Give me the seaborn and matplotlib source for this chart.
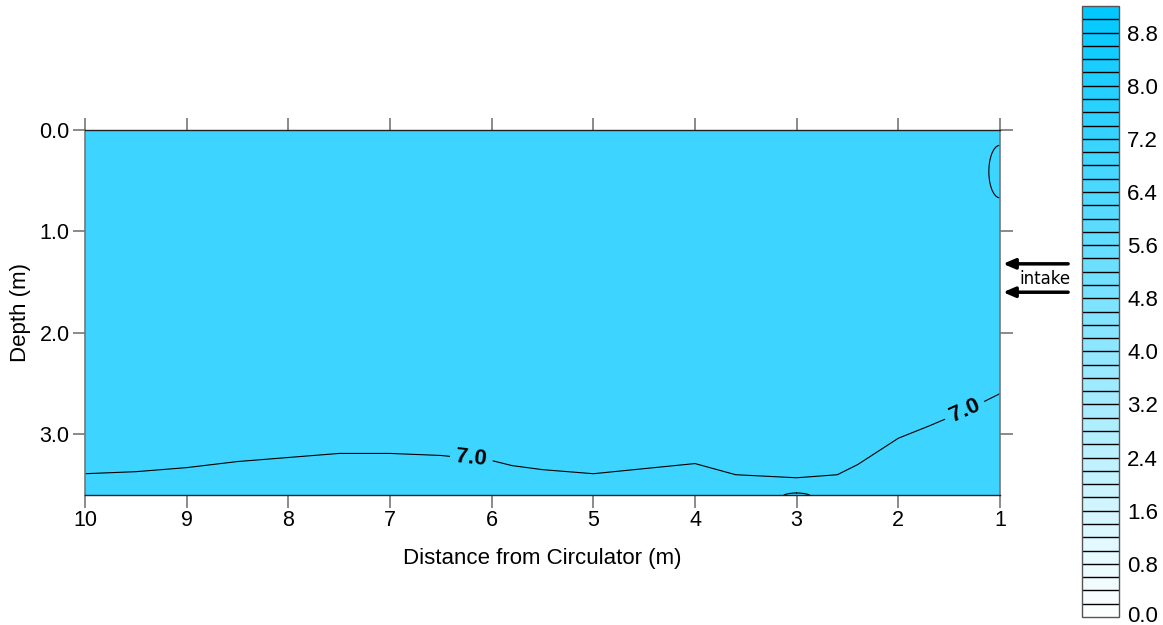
import numpy as np
import matplotlib
matplotlib.use("Agg")
import matplotlib.pyplot as plt
import matplotlib.colors as mcolors
import matplotlib.cm as cm
import matplotlib.transforms as mtransforms
import seaborn as sns

# ---- data ----
# depth (m) of the 7.0 isoline along the section
iso_x = [10, 9.5, 9, 8.5, 8, 7.5, 7, 6.5, 6, 5.8, 5.5, 5, 4.5, 4, 3.6, 3, 2.6, 2.4, 2, 1.7, 1.3, 1]
iso_depth = [3.39, 3.37, 3.33, 3.27, 3.23, 3.19, 3.19, 3.21, 3.26, 3.31, 3.35, 3.39, 3.34, 3.29,
             3.40, 3.43, 3.40, 3.30, 3.04, 2.92, 2.75, 2.60]
value_above = 7.1   # value above (shallower than) the isoline
value_below = 6.9   # value below the isoline
iso_level = 7.0
# small closed pockets: (x centre, depth centre, x radius, depth radius, sign)
pockets = [(1.0, 0.41, 0.11, 0.26, -1), (3.0, 3.63, 0.16, 0.05, +1)]

fill_levels = np.arange(0.0, 9.6, 0.4)
cbar_bounds = np.round(np.arange(0.0, 9.4, 0.2), 1)
cbar_ticks = np.round(np.arange(0.0, 9.0, 0.8), 1)
x_ticks = list(range(1, 11))
y_ticks = [0.0, 1.0, 2.0, 3.0]

# ---- build field ----
xg = np.linspace(1, 10, 451)
dg = np.linspace(0, 3.6, 361)
X, D = np.meshgrid(xg, dg)
B = np.interp(X, iso_x[::-1], iso_depth[::-1])
half = (value_above - value_below) / 2
Z = iso_level + half * np.clip((B - D) / 0.1, -1, 1)
for cx, cd, rx, rd, s in pockets:
    r2 = ((X - cx) / rx) ** 2 + ((D - cd) / rd) ** 2
    pocket = iso_level - s * 0.1 * (r2 - 1)
    if s < 0:
        Z = np.minimum(Z, pocket)
    else:
        Z = np.maximum(Z, pocket)

sns.set_style("ticks")
plt.rcParams['font.family'] = ['Liberation Sans', 'DejaVu Sans']
plt.rcParams['text.color'] = 'black'
plt.rcParams['axes.labelcolor'] = 'black'
plt.rcParams['xtick.labelcolor'] = 'black'
plt.rcParams['ytick.labelcolor'] = 'black'

cmap = mcolors.LinearSegmentedColormap.from_list("wc", ["#ffffff", "#00c8ff"])
norm = mcolors.Normalize(vmin=0.0, vmax=9.2)

fig = plt.figure(figsize=(11.63, 6.25), dpi=100)
ax = fig.add_axes([85/1163, 1 - 495/625, 915/1163, 365/625])

ax.contourf(X, D, Z, levels=fill_levels, cmap=cmap, norm=norm)
cs = ax.contour(X, D, Z, levels=[iso_level], colors="black", linewidths=0.8)
labels = ax.clabel(cs, fmt="%.1f", fontsize=16, inline=True, inline_spacing=6,
                   manual=[(6.2, 3.24), (1.35, 2.76)])
for t in labels:
    t.set_fontweight("bold")
    t.set_color("black")

ax.set_xlim(10, 1)
ax.set_ylim(3.6, 0)
ax.set_xticks(x_ticks)
ax.set_yticks(y_ticks)
ax.set_yticklabels([f"{v:.1f}" for v in y_ticks])
ax.tick_params(axis="both", which="both", direction="out", length=9, width=1.2,
               color="#777777", labelsize=15.5, labelcolor="black", top=True, right=True,
               labeltop=False, labelright=False, pad=2)
for side in ["left", "right"]:
    ax.spines[side].set_color("#777777")
    ax.spines[side].set_linewidth(1.2)
for side in ["top", "bottom"]:
    ax.spines[side].set_color("#222222")
    ax.spines[side].set_linewidth(1.0)
ax.set_xlabel("Distance from Circulator (m)", fontsize=16, labelpad=12, color="black")
ax.set_ylabel("Depth (m)", fontsize=16, labelpad=6, color="black")

# intake arrows
for dep in [1.32, 1.60]:
    ax.annotate("", xy=(0.97, dep), xytext=(0.33, dep), xycoords="data",
                annotation_clip=False,
                arrowprops=dict(arrowstyle="-|>,head_length=0.7,head_width=0.3",
                                color="black", lw=2.5, shrinkA=0, shrinkB=0))
ax.text(0.56, 1.47, "intake", fontsize=12, ha="center", va="center",
        family=["DejaVu Sans"], clip_on=False, color="black")

# colour bar
cax = fig.add_axes([1082/1163, 1 - 617/625, 37/1163, 611/625])
sm = cm.ScalarMappable(norm=norm, cmap=cmap)
cb = fig.colorbar(sm, cax=cax, boundaries=cbar_bounds,
                  values=(cbar_bounds[:-1] + cbar_bounds[1:]) / 2,
                  drawedges=True, ticks=cbar_ticks)
cb.dividers.set_color("black")
cb.dividers.set_linewidth(1.0)
cb.outline.set_edgecolor("#555555")
cb.outline.set_linewidth(1.0)
cax.tick_params(length=0, labelsize=16, pad=6, labelcolor="black")
cax.set_yticklabels([f"{v:.1f}" for v in cbar_ticks])
# keep the lowest label inside the canvas
fig.canvas.draw()
lab0 = cax.get_yticklabels()[0]
lab0.set_transform(lab0.get_transform() + mtransforms.ScaledTranslation(0, 3/100, fig.dpi_scale_trans))

fig.savefig("out.png", dpi=100)
